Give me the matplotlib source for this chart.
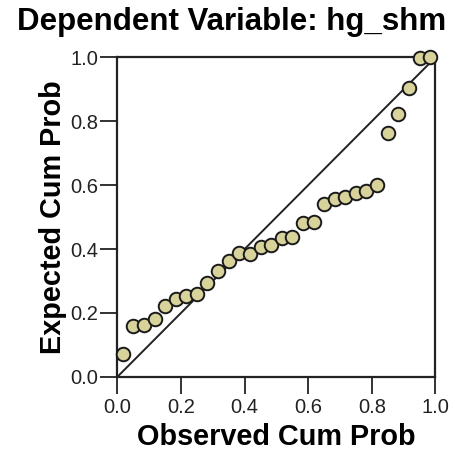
import matplotlib
matplotlib.use('Agg')
import matplotlib.pyplot as plt

plt.rcParams['font.family'] = ['Liberation Sans', 'DejaVu Sans']

observed = [0.017, 0.050, 0.083, 0.117, 0.150, 0.183, 0.217, 0.250, 0.283, 0.317,
            0.350, 0.383, 0.417, 0.450, 0.483, 0.517, 0.550, 0.583, 0.617, 0.650,
            0.683, 0.717, 0.750, 0.783, 0.817, 0.850, 0.883, 0.917, 0.950, 0.983]
expected = [0.071, 0.159, 0.162, 0.180, 0.221, 0.245, 0.253, 0.258, 0.294, 0.332,
            0.362, 0.388, 0.386, 0.407, 0.414, 0.435, 0.438, 0.480, 0.485, 0.541,
            0.557, 0.562, 0.574, 0.582, 0.600, 0.764, 0.822, 0.905, 0.997, 1.000]
ticks = [0.0, 0.2, 0.4, 0.6, 0.8, 1.0]
tick_labels = ['0.0', '0.2', '0.4', '0.6', '0.8', '1.0']

fig = plt.figure(figsize=(4.55, 4.59), dpi=100)
ax = fig.add_axes([0.258, 0.179, 0.699, 0.696])

ax.plot([0, 1], [0, 1], color='#222222', lw=1.4, zorder=2)
ax.scatter(observed, expected, s=95, facecolor='#d8d29b', edgecolor='#1a1a1a',
           linewidth=1.4, zorder=3, clip_on=False)

ax.set_xlim(0, 1)
ax.set_ylim(0, 1)
ax.set_xticks(ticks)
ax.set_xticklabels(tick_labels)
ax.set_yticks(ticks)
ax.set_yticklabels(tick_labels)
ax.tick_params(direction='out', length=12, width=1.3, labelsize=14.5,
               colors='#222222')
ax.tick_params(axis='x', pad=3.5)
ax.tick_params(axis='y', pad=2)
for sp in ax.spines.values():
    sp.set_linewidth(1.6)
    sp.set_color('#222222')

ax.set_xlabel('Observed Cum Prob', fontsize=20.8, fontweight='bold', labelpad=4)
ax.set_ylabel('Expected Cum Prob', fontsize=20.8, fontweight='bold', labelpad=2)
fig.suptitle('Dependent Variable: hg_shm', fontsize=22.5, fontweight='bold',
             x=0.508, y=0.985)

fig.savefig('out.png', dpi=100)
